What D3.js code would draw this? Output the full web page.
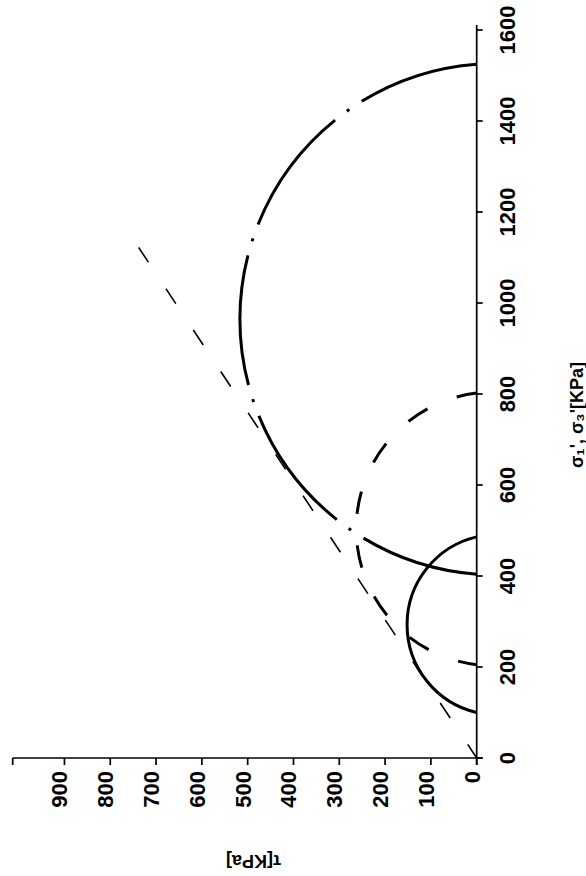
<!DOCTYPE html>
<html>
<head>
<meta charset="utf-8">
<script src="https://cdn.jsdelivr.net/npm/d3@7"></script>
<style>
  html, body { margin: 0; padding: 0; background: #fff; }
  svg { display: block; }
  text { font-family: "Liberation Sans", Arial, sans-serif; font-weight: bold; fill: #000; }
</style>
</head>
<body>
<svg id="chart" width="586" height="876"></svg>
<script>
// ---- data ----
const sigmaTicks = [0, 200, 400, 600, 800, 1000, 1200, 1400, 1600];
const tauTicks = [0, 100, 200, 300, 400, 500, 600, 700, 800, 900];
const circleNames = ["solid", "dashed", "dashdot"];
const circleSigma3 = [100, 205, 404];     // lower intercept on σ axis
const circleSigma1 = [486, 802, 1525];    // upper intercept on σ axis
const circleTauPeak = [152, 263, 517];    // highest τ reached
const envelopeSigma = [0, 1122];
const envelopeTau = [0, 738];
const sigmaTitle = "σ₁', σ₃'[KPa]";
const tauTitle = "τ[KPa]";

// ---- layout ----
const svg = d3.select("#chart");
const x0 = 476.7, y0 = 758;
const sigma = d3.scaleLinear().domain([0, 1611]).range([y0, 25]);   // vertical
const tau = d3.scaleLinear().domain([0, 1013]).range([x0, 12.7]);   // horizontal (leftwards)

// axes
const ax = svg.append("g").attr("stroke", "#000").attr("stroke-width", 1.7);
ax.append("line").attr("x1", x0).attr("x2", x0).attr("y1", sigma.range()[1]).attr("y2", y0 + 7);
ax.append("line").attr("x1", tau.range()[1]).attr("x2", x0 + 6).attr("y1", y0).attr("y2", y0);
sigmaTicks.forEach(v => {
  ax.append("line").attr("x1", x0).attr("x2", x0 + 6).attr("y1", sigma(v)).attr("y2", sigma(v));
});
tauTicks.concat([tau.domain()[1]]).forEach(v => {
  ax.append("line").attr("x1", tau(v)).attr("x2", tau(v)).attr("y1", y0).attr("y2", y0 + 7);
});

// tick labels
svg.append("g").selectAll("text").data(sigmaTicks).join("text")
  .attr("transform", d => `translate(515,${sigma(d)}) rotate(-90)`)
  .attr("text-anchor", "middle")
  .style("font-size", "22px")
  .text(d => d);
svg.append("g").selectAll("text").data(tauTicks).join("text")
  .attr("transform", d => `translate(${tau(d) + 3},771) rotate(-90)`)
  .attr("text-anchor", "end")
  .style("font-size", "22px")
  .text(d => d);

// axis titles
svg.append("text")
  .attr("transform", "translate(583,415) rotate(-90)")
  .attr("text-anchor", "middle")
  .style("font-size", "18px")
  .text(sigmaTitle);
svg.append("text")
  .attr("transform", "translate(253.5,855) rotate(180)")
  .attr("text-anchor", "middle")
  .style("font-size", "18px")
  .text(tauTitle);

// Mohr circles: arc through both σ-axis intercepts and the peak
const styles = {
  solid:   { dash: null, offset: 0 },
  dashed:  { dash: "22.7,31.6", offset: 2.3 },
  dashdot: { dash: "131,14.8,3,14.8", offset: 9 }
};
circleNames.forEach((name, i) => {
  const yTop = sigma(circleSigma1[i]);
  const yBot = sigma(circleSigma3[i]);
  const xP = tau(circleTauPeak[i]);
  const h = (yBot - yTop) / 2;
  const cx = (x0 * x0 + h * h - xP * xP) / (2 * (x0 - xP));
  const R = cx - xP;
  const st = styles[name];
  const p = svg.append("path")
    .attr("d", `M${x0},${yTop} A${R},${R} 0 0 0 ${x0},${yBot}`)
    .attr("fill", "none")
    .attr("stroke", "#000")
    .attr("stroke-width", 3);
  if (st.dash) p.attr("stroke-dasharray", st.dash).attr("stroke-dashoffset", st.offset);
});

// failure envelope
svg.append("line")
  .attr("x1", tau(envelopeTau[0])).attr("y1", sigma(envelopeSigma[0]))
  .attr("x2", tau(envelopeTau[1])).attr("y2", sigma(envelopeSigma[1]))
  .attr("stroke", "#000").attr("stroke-width", 1.6)
  .attr("stroke-dasharray", "18,31.7").attr("stroke-dashoffset", 1.7);
</script>
</body>
</html>
